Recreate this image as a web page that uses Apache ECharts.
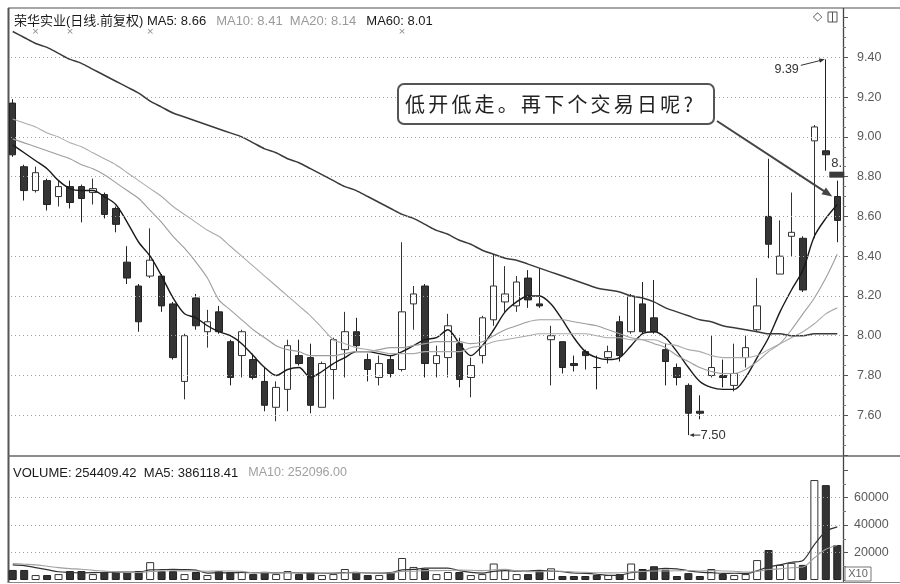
<!DOCTYPE html>
<html><head><meta charset="utf-8">
<script src="https://cdn.jsdelivr.net/npm/echarts@6/dist/echarts.min.js"></script>
<style>html,body{margin:0;padding:0;background:#fff}#c{width:900px;height:584px}</style>
</head><body><div id="c"></div>
<script>
// ---------- data ----------
const categories = Array.from({length: 73}, (_, i) => 'D' + (i + 1));
const openP  = [9.17,8.85,8.73,8.78,8.70,8.75,8.75,8.72,8.71,8.64, 8.37,8.25,8.30,8.30,8.16,7.77,8.19,8.02,8.12,7.97, 7.90,7.88,7.77,7.64,7.73,7.90,7.89,7.64,7.83,7.93, 8.02,7.88,7.79,7.88,7.83,8.16,8.25,7.86,7.89,7.96, 7.79,7.90,8.08,8.17,8.15,8.29,8.16,7.98,7.97,7.86, 7.92,7.84,7.89,8.07,8.02,8.16,8.09,7.93,7.84,7.75, 7.62,7.80,7.80,7.75,7.89,8.03,8.60,8.31,8.50,8.49, 8.98,8.93,8.70];
const closeP = [8.91,8.73,8.82,8.66,8.75,8.67,8.69,8.74,8.61,8.56, 8.29,8.07,8.38,8.15,7.89,8.00,8.05,8.07,8.02,7.79, 8.02,7.79,7.65,7.74,7.95,7.86,7.65,7.86,7.98,8.02, 7.95,7.83,7.86,7.81,8.12,8.21,7.86,7.90,8.05,7.78, 7.85,8.09,8.25,8.21,8.27,8.18,8.15,8.00,7.84,7.85, 7.90,7.84,7.92,7.90,8.20,8.02,8.02,7.87,7.79,7.61, 7.61,7.84,7.79,7.81,7.94,8.15,8.46,8.40,8.52,8.23, 9.05,8.91,8.58];
const lowP   = [8.90,8.68,8.72,8.63,8.65,8.64,8.57,8.66,8.59,8.52, 8.26,8.02,8.29,8.12,7.88,7.68,8.03,7.94,8.01,7.75, 7.79,7.78,7.62,7.57,7.62,7.85,7.61,7.64,7.68,7.79, 7.92,7.77,7.75,7.79,7.82,8.03,7.79,7.79,7.79,7.74, 7.69,7.86,8.05,8.12,8.12,8.14,8.14,7.75,7.81,7.82, 7.83,7.73,7.86,7.87,8.01,8.01,8.01,7.75,7.75,7.50, 7.58,7.79,7.74,7.72,7.84,8.02,8.39,8.31,8.40,8.22, 8.49,8.83,8.47];
const highP  = [9.19,8.86,8.85,8.79,8.78,8.78,8.76,8.79,8.72,8.65, 8.45,8.26,8.54,8.31,8.17,8.01,8.21,8.13,8.15,7.98, 8.03,7.91,7.84,7.77,7.98,7.98,7.96,7.87,7.99,8.12, 8.09,7.91,7.90,7.90,8.47,8.25,8.26,7.95,8.11,7.99, 7.89,8.10,8.41,8.35,8.30,8.33,8.34,8.05,7.97,7.90, 7.93,7.90,7.95,8.10,8.21,8.27,8.28,7.96,7.86,7.76, 7.70,8.00,7.88,7.96,8.00,8.29,8.89,8.58,8.72,8.50, 9.06,9.39,8.78];
const ma5  = [8.96,8.92,8.88,8.84,8.78,8.74,8.73,8.73,8.70,8.66, 8.57,8.47,8.40,8.30,8.19,8.11,8.09,8.05,8.02,8.00, 7.96,7.90,7.84,7.80,7.83,7.84,7.79,7.82,7.86,7.89, 7.92,7.92,7.91,7.90,7.92,7.95,7.98,7.99,8.03,7.96, 7.90,7.95,8.03,8.12,8.17,8.20,8.20,8.16,8.08,7.99, 7.92,7.89,7.88,7.89,7.95,8.01,8.02,7.99,7.92,7.84, 7.77,7.74,7.73,7.73,7.79,7.89,7.99,8.12,8.23,8.33, 8.50,8.59,8.66];
const ma10 = [8.99,8.97,8.95,8.93,8.91,8.89,8.86,8.84,8.81,8.77, 8.73,8.69,8.63,8.57,8.50,8.44,8.37,8.29,8.18,8.13, 8.08,8.03,7.99,7.95,7.93,7.92,7.90,7.90,7.90,7.91, 7.92,7.92,7.93,7.94,7.94,7.95,7.96,7.97,7.97,7.97, 7.96,7.97,8.00,8.03,8.05,8.07,8.08,8.08,8.08,8.07, 8.06,8.05,8.03,8.01,7.99,7.98,7.96,7.94,7.90,7.87, 7.84,7.82,7.81,7.81,7.83,7.87,7.92,7.96,8.03,8.11, 8.19,8.29,8.41];
const ma20 = [9.09,9.07,9.05,9.02,9.00,8.97,8.95,8.92,8.89,8.86, 8.82,8.78,8.74,8.70,8.65,8.61,8.57,8.53,8.50,8.45, 8.40,8.35,8.30,8.25,8.20,8.15,8.10,8.04,7.98,7.96, 7.94,7.93,7.92,7.91,7.91,7.91,7.92,7.92,7.92,7.92, 7.94,7.95,7.97,7.98,7.99,8.00,8.01,8.01,8.01,8.01, 8.01,8.00,7.99,7.99,7.98,7.98,7.98,7.96,7.95,7.93, 7.92,7.90,7.89,7.89,7.89,7.90,7.93,7.96,7.99,8.02, 8.06,8.11,8.14];
const ma60 = [9.53,9.50,9.47,9.45,9.42,9.39,9.37,9.34,9.31,9.28, 9.25,9.22,9.18,9.15,9.12,9.10,9.08,9.06,9.04,9.02, 9.00,8.97,8.94,8.92,8.89,8.87,8.84,8.81,8.78,8.75, 8.73,8.70,8.67,8.64,8.61,8.59,8.56,8.53,8.51,8.48, 8.46,8.43,8.41,8.39,8.38,8.36,8.34,8.32,8.30,8.28, 8.26,8.24,8.23,8.22,8.20,8.19,8.17,8.14,8.12,8.10, 8.08,8.07,8.05,8.04,8.03,8.02,8.01,8.01,8.00,8.00, 8.01,8.01,8.01];
const volume = [7300,7300,3600,3600,4300,6500,6500,4300,5800,5800, 5800,6500,13000,6500,6500,4300,5800,3600,6500,5800, 5800,4300,5800,4300,6500,4300,5800,3600,4300,8000, 5800,3600,3600,5800,16000,9500,8000,4300,5800,5800, 3600,4300,12000,8000,4300,4300,6800,8500,2900,2900, 2900,3600,3600,4300,12000,8000,10000,7500,2900,5000, 2900,8000,4300,3600,4300,14500,21800,11000,12500,11000, 72700,69000,25441];
const volMa5 = [11000,10500,9000,7500,6000,5500,5200,5300,5600,5800, 5700,5700,7300,7500,7800,7600,7200,5000,5300,5200, 5500,5300,5500,5200,5400,5200,5200,4800,4900,5300, 5500,5100,5000,5300,7400,7700,8600,8700,8700,6800, 5500,5000,6300,6800,6500,6500,7000,6500,6000,5100, 4800,4200,3400,3600,5300,6300,7600,8400,8100,6700, 5700,5300,4800,4900,4600,6700,9500,11000,12900,14200, 25800,35300,38612];
const volMa10 = [12000,11500,11000,10000,9000,8300,7800,7000,6500,5800, 5500,5500,6200,6500,6700,6600,6500,6400,6500,6500, 6300,5200,5400,5200,5400,5200,5300,5000,5100,5200, 5400,5100,5100,5100,6300,6400,6800,6800,6900,7200, 7100,6800,7400,7700,6700,6000,6000,6600,6400,5800, 5600,5300,5200,5300,5900,6200,6600,6600,6700,6900, 6600,6800,6600,6400,5700,6200,7600,8100,8900,9400, 16200,22300,25210];
const priceTicks = [7.6,7.8,8.0,8.2,8.4,8.6,8.8,9.0,9.2,9.4];
const volTicks = [20000,40000,60000];
const stockName = '荣华实业(日线.前复权)';
const volHeader = ['VOLUME: 254409.42', 'MA5: 386118.41', 'MA10: 252096.00'];
const calloutText = '低开低走。再下个交易日呢?';
const highIdx = 71, highVal = 9.39, lowIdx = 59, lowVal = 7.50;
const infoMarks = [2, 5, 12, 34];

// ---------- chart ----------
const chart = echarts.init(document.getElementById('c'));
const N = categories.length;
const kData = categories.map((_, i) => [openP[i], closeP[i], lowP[i], highP[i]]);
const isUp = i => closeP[i] > openP[i] || (closeP[i] === openP[i] && i > 0 && closeP[i] >= closeP[i - 1]);
const volData = volume.map((v, i) => ({
  value: v,
  itemStyle: isUp(i) ? {color: '#fff', borderColor: '#333', borderWidth: 1} : {color: '#333', borderColor: '#222', borderWidth: 1}
}));
const last = a => a[a.length - 1].toFixed(2);
const FONT = '"Liberation Sans", Arial, "Noto Sans CJK SC", sans-serif';
const gridLineStyle = {color: '#a0a0a0', width: 1, type: [1, 3]};

const option = {
  animation: false,
  backgroundColor: '#fff',
  textStyle: {fontFamily: FONT},
  title: [{
    left: 9, top: 7,
    text: '{a|' + stockName + ' MA5: ' + last(ma5) + '}  {b|MA10: ' + last(ma10) + '  MA20: ' + last(ma20) + '}  {a|MA60: ' + last(ma60) + '}',
    textStyle: {fontWeight: 'normal', rich: {
      a: {fontSize: 13, color: '#1a1a1a', fontFamily: FONT, fontWeight: 'normal'},
      b: {fontSize: 13, color: '#9a9a9a', fontFamily: FONT, fontWeight: 'normal'}
    }}
  }, {
    left: 8, top: 459,
    text: '{a|' + volHeader[0] + '  ' + volHeader[1] + '}  {b|' + volHeader[2] + '}',
    textStyle: {fontWeight: 'normal', rich: {
      a: {fontSize: 13, color: '#1a1a1a', fontFamily: FONT, fontWeight: 'normal'},
      b: {fontSize: 12.5, color: '#a0a0a0', fontFamily: FONT, fontWeight: 'normal'}
    }}
  }],
  grid: [
    {left: 7, right: 57, top: 17.6, height: 437.4},
    {left: 7, right: 57, top: 470, height: 110}
  ],
  xAxis: [
    {type: 'category', data: categories, gridIndex: 0, boundaryGap: true, show: false},
    {type: 'category', data: categories, gridIndex: 1, boundaryGap: true, show: false}
  ],
  yAxis: [{
    type: 'value', gridIndex: 0, position: 'right', min: 7.4, max: 9.6, interval: 0.2,
    axisLine: {show: false}, splitLine: {show: false},
    axisTick: {show: true, length: 5, lineStyle: {color: '#555'}},
    minorTick: {show: true, splitNumber: 4, length: 3, lineStyle: {color: '#777'}},
    axisLabel: {margin: 14, color: '#5a5a5a', fontSize: 12.5, fontFamily: FONT,
      formatter: v => (v > 7.5 && v < 9.5) ? v.toFixed(2) : ''}
  }, {
    type: 'value', gridIndex: 1, position: 'right', min: 0, max: 80000, interval: 20000,
    axisLine: {show: false}, splitLine: {show: false},
    axisTick: {show: true, length: 5, lineStyle: {color: '#555'}},
    minorTick: {show: true, splitNumber: 2, length: 3, lineStyle: {color: '#777'}},
    axisLabel: {margin: 11, color: '#5a5a5a', fontSize: 12.5, fontFamily: FONT,
      formatter: v => (v > 0 && v < 80000) ? String(v) : ''}
  }],
  series: [{
    type: 'candlestick', xAxisIndex: 0, yAxisIndex: 0, data: kData, barWidth: 7,
    itemStyle: {color: '#fff', color0: '#353535', borderColor: '#333', borderColor0: '#222', borderWidth: 1}
  }, {
    type: 'line', data: ma5, xAxisIndex: 0, yAxisIndex: 0, symbol: 'none', smooth: 0.3,
    lineStyle: {color: '#1a1a1a', width: 1.4}
  }, {
    type: 'line', data: ma10, xAxisIndex: 0, yAxisIndex: 0, symbol: 'none', smooth: 0.3,
    lineStyle: {color: '#9d9d9d', width: 1.1}
  }, {
    type: 'line', data: ma20, xAxisIndex: 0, yAxisIndex: 0, symbol: 'none', smooth: 0.3,
    lineStyle: {color: '#ababab', width: 1.1}
  }, {
    type: 'line', data: ma60, xAxisIndex: 0, yAxisIndex: 0, symbol: 'none', smooth: 0.3,
    lineStyle: {color: '#3a3a3a', width: 1.5},
    markLine: {silent: true, symbol: 'none', label: {show: false}, lineStyle: gridLineStyle,
      data: priceTicks.map(v => ({yAxis: v}))}
  }, {
    type: 'bar', xAxisIndex: 1, yAxisIndex: 1, data: volData, barWidth: 8
  }, {
    type: 'line', data: volMa5, xAxisIndex: 1, yAxisIndex: 1, symbol: 'none', smooth: 0.3,
    lineStyle: {color: '#333', width: 1.2},
    markLine: {silent: true, symbol: 'none', label: {show: false}, lineStyle: gridLineStyle,
      data: volTicks.map(v => ({yAxis: v}))}
  }, {
    type: 'line', data: volMa10, xAxisIndex: 1, yAxisIndex: 1, symbol: 'none', smooth: 0.3,
    lineStyle: {color: '#a0a0a0', width: 1.1}
  }]
};
chart.setOption(option);

// ---------- annotations (positions from the chart's own scales) ----------
const px = (i, v) => chart.convertToPixel({xAxisIndex: 0, yAxisIndex: 0}, [i, v]);
function arrow(x1, y1, x2, y2, head, w, color) {
  const a = Math.atan2(y2 - y1, x2 - x1);
  const hx1 = x2 - head * Math.cos(a - 0.38), hy1 = y2 - head * Math.sin(a - 0.38);
  const hx2 = x2 - head * Math.cos(a + 0.38), hy2 = y2 - head * Math.sin(a + 0.38);
  return [
    {type: 'line', shape: {x1, y1, x2: x2 - (head * 0.6) * Math.cos(a), y2: y2 - (head * 0.6) * Math.sin(a)}, style: {stroke: color, lineWidth: w}, z: 20},
    {type: 'polygon', shape: {points: [[x2, y2], [hx1, hy1], [hx2, hy2]]}, style: {fill: color}, z: 20}
  ];
}
const hp = px(highIdx, highVal);
const lp = px(lowIdx, lowVal);
const tgt = px(N - 1, openP[N - 1]);
const lastMark = px(N - 1, 8.81);
const elems = [];
// frame
elems.push(
  {type: 'line', shape: {x1: 8, y1: 8, x2: 900, y2: 8}, style: {stroke: '#8a8a8a', lineWidth: 1.5}},
  {type: 'line', shape: {x1: 8.5, y1: 8, x2: 8.5, y2: 583}, style: {stroke: '#555', lineWidth: 2}},
  {type: 'line', shape: {x1: 843.5, y1: 8, x2: 843.5, y2: 583}, style: {stroke: '#444', lineWidth: 1.3}},
  {type: 'line', shape: {x1: 8, y1: 456, x2: 900, y2: 456}, style: {stroke: '#666', lineWidth: 1.5}},
  {type: 'line', shape: {x1: 8, y1: 582.5, x2: 900, y2: 582.5}, style: {stroke: '#888', lineWidth: 1}}
);
// top-right icons
elems.push(
  {type: 'text', style: {x: 813, y: 11, text: '◇', font: '12px "DejaVu Sans"', fill: '#555'}},
  {type: 'rect', shape: {x: 828, y: 12, width: 9, height: 10}, style: {fill: 'none', stroke: '#555', lineWidth: 1}},
  {type: 'line', shape: {x1: 832.5, y1: 12, x2: 832.5, y2: 22}, style: {stroke: '#555', lineWidth: 1}}
);
// info markers
infoMarks.forEach(i => {
  const p = px(i, 9.5);
  elems.push({type: 'text', style: {x: p[0], y: 32, text: '×', font: '9px "DejaVu Sans"', fill: '#888', align: 'center', verticalAlign: 'middle'}});
});
// highest / lowest labels
elems.push(...arrow(hp[0] - 25, hp[1] + 6, hp[0] - 1, hp[1], 6, 1, '#333'));
elems.push({type: 'text', style: {x: hp[0] - 27, y: hp[1] + 10, text: highVal.toFixed(2), font: '12.5px ' + FONT, fill: '#333', align: 'right', verticalAlign: 'middle'}});
elems.push(...arrow(lp[0] + 12, lp[1], lp[0] + 1, lp[1], 5, 1, '#333'));
elems.push({type: 'text', style: {x: lp[0] + 12, y: lp[1], text: lowVal.toFixed(2), font: '13px ' + FONT, fill: '#333', align: 'left', verticalAlign: 'middle'}});
// last price tag
elems.push({type: 'rect', shape: {x: lastMark[0] - 8, y: lastMark[1] - 3, width: 15, height: 6}, style: {fill: '#3a3a3a'}, z: 15});
elems.push({type: 'text', style: {x: lastMark[0] - 6, y: lastMark[1] - 11, text: '8.', font: '13px ' + FONT, fill: '#333', verticalAlign: 'middle'}, z: 15});
// callout
elems.push({type: 'rect', shape: {x: 398, y: 84, width: 316, height: 40, r: 6}, style: {fill: '#fff', stroke: '#555', lineWidth: 2}, z: 18});
Array.from(calloutText).forEach((ch, k) => {
  elems.push({type: 'text', style: {x: 405 + k * 23.2, y: 104, text: ch, font: '20px "Noto Sans CJK SC"', fill: '#222', verticalAlign: 'middle'}, z: 19});
});
elems.push(...arrow(717, 121, tgt[0] - 5, tgt[1], 11, 2, '#444'));
// X10 box
elems.push({type: 'rect', shape: {x: 845, y: 567, width: 26, height: 14}, style: {fill: '#fff', stroke: '#777', lineWidth: 1}, z: 15});
elems.push({type: 'text', style: {x: 858, y: 574, text: 'X10', font: '11px ' + FONT, fill: '#666', align: 'center', verticalAlign: 'middle'}, z: 16});
chart.setOption({graphic: {elements: elems}});
</script></body></html>
